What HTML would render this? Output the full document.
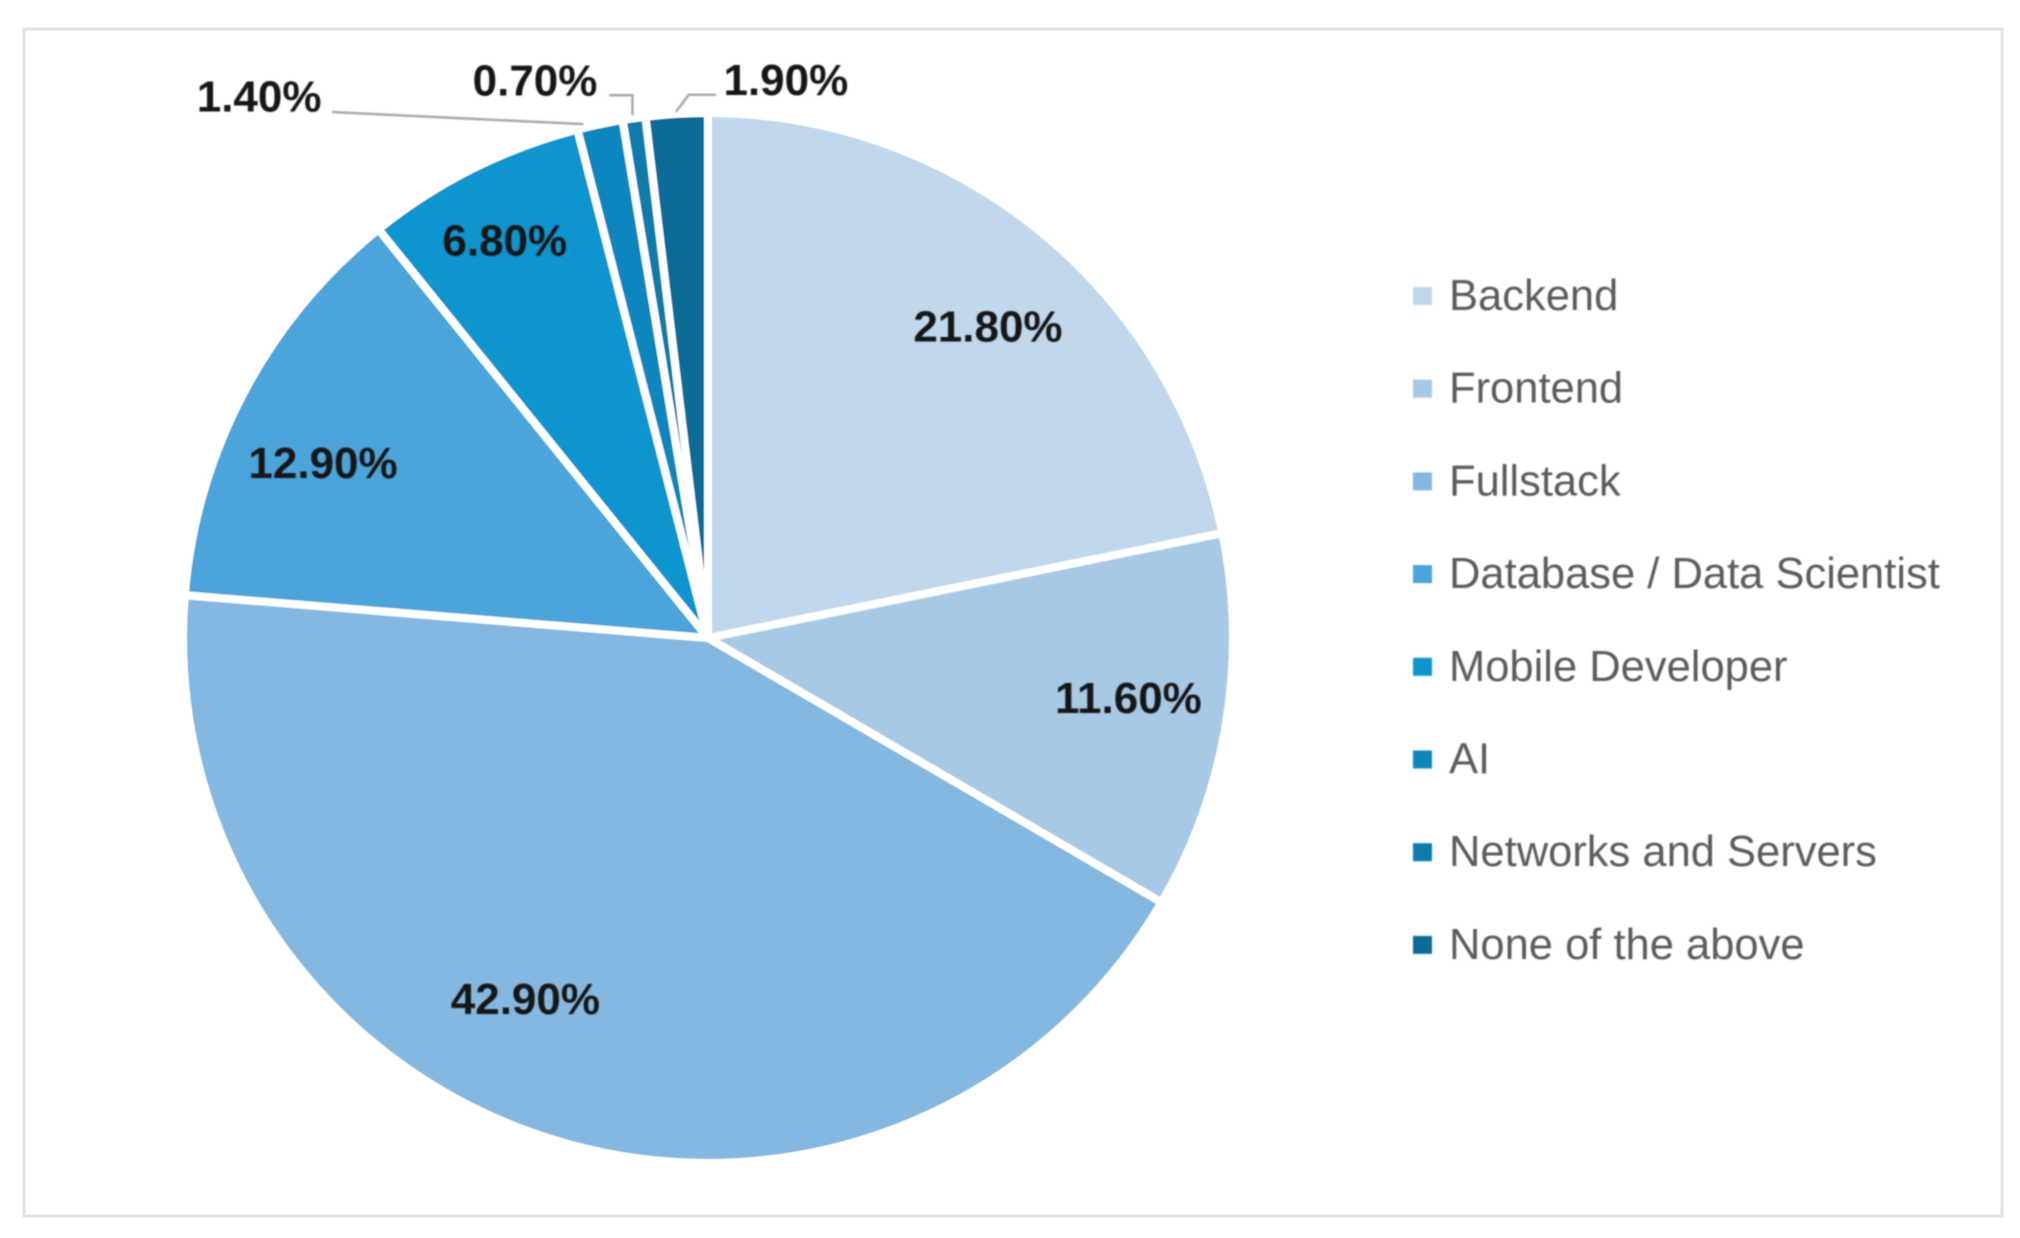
<!DOCTYPE html>
<html lang="en">
<head>
<meta charset="utf-8">
<title>Developer specialisation pie chart</title>
<style>
  html, body { margin: 0; padding: 0; background: #ffffff; }
  body { width: 2020px; height: 1238px; overflow: hidden; }
  svg { display: block; }
  text { font-family: "Liberation Sans", sans-serif; }
  .value-label { font-weight: 700; font-size: 44px; fill: #161616; text-anchor: middle; dominant-baseline: central; }
  .legend-label { font-size: 43.5px; fill: #5c5c5c; dominant-baseline: central; }
</style>
</head>
<body>
<svg id="chart" xmlns="http://www.w3.org/2000/svg" width="2020" height="1238" viewBox="0 0 2020 1238">
  <defs>
    <filter id="soft" x="-5%" y="-5%" width="110%" height="110%"><feGaussianBlur stdDeviation="0.9"/></filter>
    <filter id="softer" x="-5%" y="-5%" width="110%" height="110%"><feGaussianBlur stdDeviation="0.6"/></filter>
  </defs>
  <rect x="24" y="29" width="1978" height="1187" fill="#ffffff" stroke="#e2e2e2" stroke-width="3"/>
  <g id="slices" filter="url(#softer)"></g>
  <g id="leaders" filter="url(#soft)"></g>
  <g id="labels" filter="url(#soft)"></g>
  <g id="legend" filter="url(#soft)"></g>
</svg>
<script>
const categories = ["Backend", "Frontend", "Fullstack", "Database / Data Scientist", "Mobile Developer", "AI", "Networks and Servers", "None of the above"];
const shares = [21.8, 11.6, 42.9, 12.9, 6.8, 1.4, 0.7, 1.9];
const colors = ["#c1d7ec", "#a7c9e6", "#85b8e0", "#4ba4da", "#0f95cf", "#0e86bd", "#0a7bab", "#0a6c97"];

const NS = "http://www.w3.org/2000/svg";
const CX = 708, CY = 638, R = 521, GAP = 8;

function angleOf(cum) {
  const total = shares.reduce((a, b) => a + b, 0);
  return cum / total * 2 * Math.PI;
}
function polar(angle, radius) {
  return [CX + Math.sin(angle) * radius, CY - Math.cos(angle) * radius];
}
function make(tag, attrs, parent) {
  const el = document.createElementNS(NS, tag);
  Object.keys(attrs).forEach(k => el.setAttribute(k, attrs[k]));
  parent.appendChild(el);
  return el;
}
function slug(s) {
  return s.toLowerCase().replace(/[^a-z0-9]+/g, "-");
}

function drawSlices() {
  const group = document.getElementById("slices");
  let cum = 0;
  shares.forEach((v, i) => {
    const a0 = angleOf(cum), a1 = angleOf(cum + v);
    cum += v;
    const r = R + GAP / 2;
    const p0 = polar(a0, r), p1 = polar(a1, r);
    const large = a1 - a0 > Math.PI ? 1 : 0;
    const el = make("path", {
      d: `M${CX} ${CY}L${p0[0]} ${p0[1]}A${r} ${r} 0 ${large} 1 ${p1[0]} ${p1[1]}Z`,
      fill: colors[i], stroke: "#ffffff", "stroke-width": GAP, "stroke-linejoin": "miter"
    }, group);
    
    
  });
}

function drawLabels() {
  const group = document.getElementById("labels");
  const leaders = document.getElementById("leaders");
  const nudges = [[13, 16], [4, -8], [-56, -41], [-12, 23], [-14, -20], [-362, -128], [-113.5, -139], [103, -136]];
  let cum = 0;
  shares.forEach((v, i) => {
    const mid = angleOf(cum + v / 2);
    cum += v;
    const base = polar(mid, R * 0.81);
    const x = base[0] + nudges[i][0], y = base[1] + nudges[i][1];
    const t = make("text", { x: x, y: y, class: "value-label" }, group);
    t.textContent = v.toFixed(2) + "%";
    
    
    if (i >= 5) {
      const tip = polar(mid, R + 1);
      let pts;
      if (i === 5) pts = [[x + 73, y + 15], [tip[0] - 17, tip[1] - 3]];
      else if (i === 6) pts = [[x + 74, y + 14], [tip[0] - 2, y + 14], [tip[0] - 2, tip[1] - 6]];
      else pts = [[x - 70, y + 14], [x - 97, y + 14], [tip[0] - 1, tip[1] - 5]];
      const line = make("polyline", {
        points: pts.map(p => p.join(",")).join(" "),
        fill: "none", stroke: "#a8a8a8", "stroke-width": 2.5
      }, leaders);
      
      
    }
  });
}

function drawLegend() {
  const group = document.getElementById("legend");
  categories.forEach((name, i) => {
    const y = 296 + i * 92.7;
    const entry = make("g", {}, group);
    
    
    const swatch = make("rect", { x: 1413, y: y - 9, width: 19, height: 18, fill: colors[i] }, entry);
    
    
    const label = make("text", { x: 1449, y: y, class: "legend-label" }, entry);
    label.textContent = name;
    
    
  });
}

drawSlices();
drawLabels();
drawLegend();
</script>
</body>
</html>
